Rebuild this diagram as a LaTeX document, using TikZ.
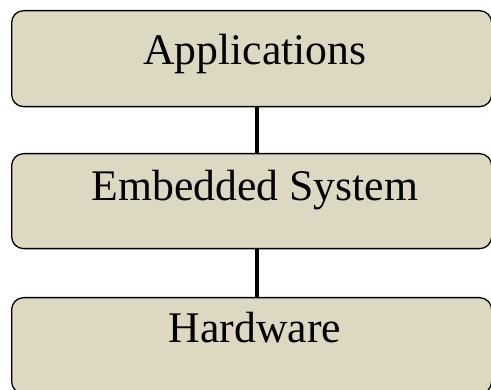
\documentclass[tikz,border=0pt]{standalone}
\usepackage{fontspec}
\setmainfont{Liberation Serif}
\begin{document}
\begin{tikzpicture}[x=1pt,y=-1pt,
  layerbox/.style={draw=black, line width=1.3pt, fill=boxfill, rounded corners=12pt,
    minimum width=480pt, minimum height=96pt, inner sep=0pt, anchor=north west},
  layertext/.style={font=\fontsize{43.7}{50}\selectfont, anchor=base, inner sep=0pt},
  link/.style={line width=4.2pt, black}]
\definecolor{boxfill}{HTML}{DCD8C2}
\useasboundingbox (0,0) rectangle (491,390);
\clip (0,0) rectangle (491,390);
\node[layerbox] (app) at (11,10) {};
\node[layerbox, minimum height=95pt] (emb) at (11,153) {};
\node[layerbox] (hw) at (11,297) {};
\node[layertext] (tapp) at (255,65) {Applications};
\node[layertext] (temb) at (255,201) {Embedded System};
\node[layertext] (thw) at (255,343) {Hardware};
\draw[link] ([xshift=5pt]app.south) -- ([xshift=5pt]emb.north);
\draw[link] ([xshift=5pt]emb.south) -- ([xshift=5pt]hw.north);
\end{tikzpicture}
\end{document}
